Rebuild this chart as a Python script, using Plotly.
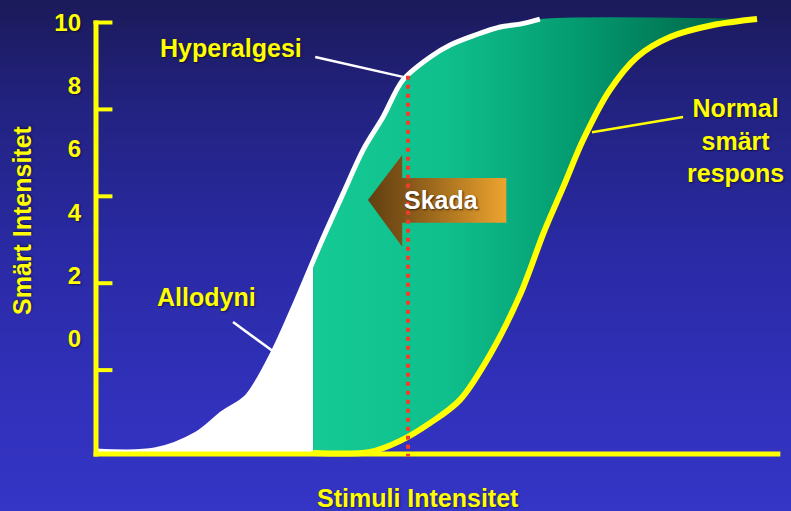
import base64
import struct
import zlib

import numpy as np
import plotly.graph_objects as go

# Stimulus intensity (x) against pain intensity (y) for the two response curves
hyper_x = [0.00, 0.86, 1.47, 1.85, 2.20, 2.58, 2.93, 3.27, 3.61, 3.90, 4.19,
           4.48, 4.88, 5.17, 5.53, 5.90, 6.19, 6.48]
hyper_y = [-3.56, -3.53, -3.02, -2.36, -1.85, -0.46, 1.22, 2.96, 4.60, 5.97, 7.01,
           8.18, 8.91, 9.29, 9.60, 9.86, 9.95, 10.11]

normal_x = [3.17, 4.00, 4.44, 4.88, 5.31, 5.75, 6.19, 6.55, 6.82, 7.11, 7.50,
            7.90, 8.38, 9.01, 9.65]
normal_y = [-3.62, -3.59, -3.24, -2.67, -1.95, -0.52, 1.38, 3.43, 4.79, 6.28, 7.86,
            8.91, 9.54, 9.92, 10.11]

# Pain-scale labels and the short marks on the vertical axis
tick_values = [10, 8, 6, 4, 2, 0]
tick_labels = ["10", "8", "6", "4", "2", "0"]
stub_values = [10, 7.25, 4.5, 1.75, -1.0]

# Stimulus where the allodynia zone ends and where the injury line sits
allodynia_edge = 3.17
injury_x = 4.555

# ---------------------------------------------------------------------------
X_RANGE = [-0.2044, 10.102]
Y_RANGE = [-3.908, 10.396]
AXIS_Y = -3.655
YELLOW = "#ffff00"
FONT = "Liberation Sans, Arial, sans-serif"
SHADOW = "1px 1px 2px rgba(0,0,0,0.55)"


def gradient_png(stops, height=256):
    """Vertical colour ramp as a tiny PNG data URI."""
    pos = [s[0] for s in stops]
    chans = [[s[1][k] for s in stops] for k in range(3)]
    rows = []
    for i in range(height):
        t = i / (height - 1)
        px = bytes(int(round(np.interp(t, pos, c))) for c in chans)
        rows.append(b"\x00" + px * 2)
    raw = b"".join(rows)

    def chunk(tag, data):
        return (struct.pack(">I", len(data)) + tag + data
                + struct.pack(">I", zlib.crc32(tag + data) & 0xFFFFFFFF))

    png = (b"\x89PNG\r\n\x1a\n"
           + chunk(b"IHDR", struct.pack(">IIBBBBB", 2, height, 8, 2, 0, 0, 0))
           + chunk(b"IDAT", zlib.compress(raw, 9))
           + chunk(b"IEND", b""))
    return "data:image/png;base64," + base64.b64encode(png).decode()


bg_uri = gradient_png([
    (0.00, (27, 26, 90)),
    (0.20, (34, 34, 128)),
    (0.50, (42, 42, 166)),
    (0.80, (49, 49, 188)),
    (1.00, (53, 53, 198)),
])

hx = np.array(hyper_x)
hy = np.array(hyper_y)
nx = np.array(normal_x)
ny = np.array(normal_y)

edge_y = float(np.interp(allodynia_edge, hx, hy))
injury_top = float(np.interp(injury_x, hx, hy))

fig = go.Figure()
SPLINE = dict(shape="spline", smoothing=0.9)

# White allodynia area: baseline along the axis, then the curve filled down to it
left = hx < allodynia_edge
fig.add_trace(go.Scatter(
    x=[0.0, allodynia_edge], y=[AXIS_Y, AXIS_Y], mode="lines",
    line=dict(width=0, color="#ffffff"), hoverinfo="skip", showlegend=False))
fig.add_trace(go.Scatter(
    x=list(hx[left]) + [allodynia_edge], y=list(hy[left]) + [edge_y],
    mode="lines", fill="tonexty", fillcolor="#ffffff",
    line=dict(width=0, color="#ffffff", **SPLINE),
    hoverinfo="skip", showlegend=False))

# Green band between the normal response (lower edge) and the sensitised one
right = hx > allodynia_edge
fig.add_trace(go.Scatter(
    x=nx, y=ny, mode="lines", line=dict(width=0, color="#10c08c", **SPLINE),
    hoverinfo="skip", showlegend=False))
fig.add_trace(go.Scatter(
    x=[allodynia_edge] + list(hx[right]) + [nx[-1]],
    y=[edge_y] + list(hy[right]) + [ny[-1]],
    mode="lines", fill="tonexty",
    line=dict(width=0, color="#10c08c", **SPLINE),
    fillgradient=dict(type="horizontal", colorscale=[
        [0.0, "#15ca95"], [0.3, "#0fbf8c"], [0.6, "#049a70"],
        [0.85, "#007352"], [1.0, "#00603f"]]),
    hoverinfo="skip", showlegend=False))

# Sensitised (hyperalgesia) curve
fig.add_trace(go.Scatter(
    x=hx, y=hy, mode="lines", line=dict(color="#ffffff", width=5, **SPLINE),
    hoverinfo="skip", showlegend=False))

# Normal pain response curve
fig.add_trace(go.Scatter(
    x=nx, y=ny, mode="lines", line=dict(color=YELLOW, width=6, **SPLINE),
    hoverinfo="skip", showlegend=False))

# Leftward "Skada" arrow
arrow_x = [3.97, 4.47, 4.47, 5.99, 5.99, 4.47, 4.47, 3.97]
arrow_y = [4.38, 5.81, 5.08, 5.08, 3.66, 3.66, 2.90, 4.38]
fig.add_trace(go.Scatter(
    x=arrow_x, y=arrow_y, mode="lines", fill="toself",
    line=dict(width=0, color="#b07020"),
    fillgradient=dict(type="horizontal", colorscale=[
        [0.0, "#62400f"], [0.25, "#7e5217"], [1.0, "#eda42e"]]),
    hoverinfo="skip", showlegend=False))

shapes = [
    # axis lines
    dict(type="line", xref="x", yref="y", x0=-0.036, x1=9.99, y0=AXIS_Y, y1=AXIS_Y,
         line=dict(color=YELLOW, width=5), layer="above"),
    dict(type="line", xref="x", yref="y", x0=0, x1=0, y0=AXIS_Y - 0.08, y1=10.06,
         line=dict(color=YELLOW, width=5), layer="above"),
]
for s in stub_values:
    shapes.append(dict(type="line", xref="x", yref="y",
                       x0=-0.036 if s == max(stub_values) else 0.0, x1=0.24,
                       y0=s, y1=s, line=dict(color=YELLOW, width=4), layer="above"))
# injury threshold line
shapes.append(dict(type="line", xref="x", yref="y", x0=injury_x, x1=injury_x,
                   y0=injury_top, y1=AXIS_Y - 0.08,
                   line=dict(color="#f03c2c", width=4, dash="4px,5px"), layer="above"))
# label pointers
shapes += [
    dict(type="line", xref="x", yref="y", x0=3.20, y0=8.91, x1=4.48, y1=8.28,
         line=dict(color="#ffffff", width=2.5), layer="above"),
    dict(type="line", xref="x", yref="y", x0=2.00, y0=0.52, x1=2.60, y1=-0.43,
         line=dict(color="#ffffff", width=2.5), layer="above"),
    dict(type="line", xref="x", yref="y", x0=8.57, y0=7.01, x1=7.24, y1=6.53,
         line=dict(color=YELLOW, width=2.5), layer="above"),
]

label_font = dict(family=FONT, size=25, color=YELLOW, weight="bold", shadow=SHADOW)
annotations = [
    dict(x=1.97, y=9.19, text="Hyperalgesi"),
    dict(x=1.62, y=1.31, text="Allodyni"),
    dict(x=9.33, y=6.28, text="Normal<br>smärt<br>respons"),
]
annotations = [dict(a, xref="x", yref="y", showarrow=False, font=label_font,
                    xanchor="center", yanchor="middle", align="center")
               for a in annotations]
annotations += [
    dict(x=5.05, y=4.38, xref="x", yref="y", text="Skada", showarrow=False,
         font=dict(family=FONT, size=25, color="#ffffff", weight="bold",
                   shadow="1px 1px 2px rgba(40,20,0,0.8)"),
         xanchor="center", yanchor="middle"),
    dict(x=4.70, y=-0.08, xref="x", yref="paper", text="Stimuli Intensitet",
         showarrow=False, font=label_font, xanchor="center", yanchor="middle"),
    dict(x=-0.085, y=3.75, xref="paper", yref="y", text="Smärt Intensitet",
         textangle=-90, showarrow=False, font=label_font,
         xanchor="center", yanchor="middle"),
]

fig.update_layout(
    width=791, height=511,
    margin=dict(l=82, r=3, t=10, b=49, pad=0),
    paper_bgcolor="#2a2aa4",
    plot_bgcolor="rgba(0,0,0,0)",
    showlegend=False,
    images=[dict(source=bg_uri, xref="paper", yref="paper",
                 x=-82 / 706, y=1 + 10 / 452, sizex=791 / 706, sizey=511 / 452,
                 xanchor="left", yanchor="top", sizing="stretch", layer="below")],
    xaxis=dict(range=X_RANGE, visible=False, fixedrange=True),
    yaxis=dict(range=Y_RANGE, tickmode="array", tickvals=tick_values,
               ticktext=tick_labels, ticks="", showgrid=False, zeroline=False,
               showline=False, fixedrange=True,
               tickfont=dict(family=FONT, size=24, color=YELLOW, weight="bold",
                             shadow=SHADOW)),
    shapes=shapes,
    annotations=annotations,
)

fig.write_html("out.html")
